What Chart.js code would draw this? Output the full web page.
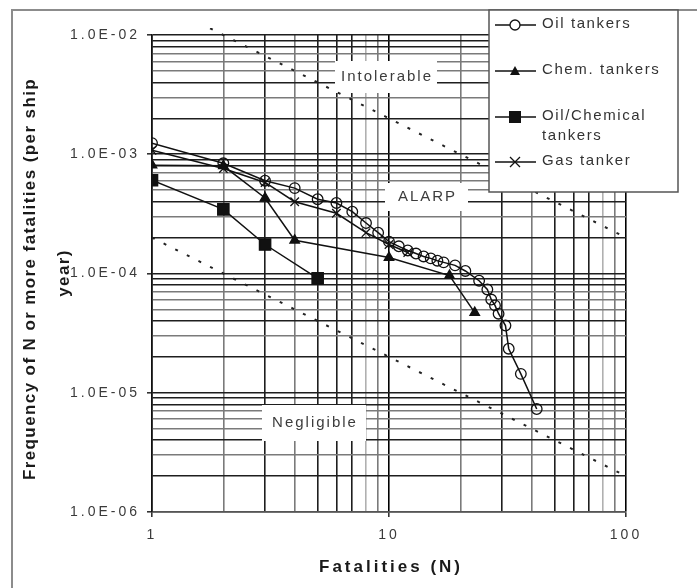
<!DOCTYPE html>
<html>
<head>
<meta charset="utf-8">
<script src="https://cdn.jsdelivr.net/npm/chart.js@4.4.1/dist/chart.umd.min.js"></script>
<style>
  html, body { margin: 0; padding: 0; background: #fff; }
</style>
</head>
<body>
<canvas id="fnChart" width="697" height="588"></canvas>
<script>
// F-N curves: frequency of N or more fatalities per ship year
const oilN = [1, 2, 3, 4, 5, 6, 7, 8, 9, 10, 11, 12, 13, 14, 15, 16, 17, 19, 21, 24, 26, 27, 28, 29, 31, 32, 36, 42];
const oilF = [1.24e-3, 8.4e-4, 6.0e-4, 5.2e-4, 4.2e-4, 3.9e-4, 3.3e-4, 2.65e-4, 2.2e-4, 1.85e-4, 1.69e-4, 1.56e-4,
  1.47e-4, 1.39e-4, 1.34e-4, 1.28e-4, 1.24e-4, 1.17e-4, 1.05e-4, 8.7e-5, 7.35e-5, 6.05e-5, 5.4e-5, 4.6e-5,
  3.66e-5, 2.34e-5, 1.44e-5, 7.3e-6];

const chemN = [1, 2, 3, 4, 10, 18, 23];
const chemF = [8.1e-4, 8.0e-4, 4.3e-4, 1.9e-4, 1.36e-4, 9.6e-5, 4.7e-5];

const oilChemN = [1, 2, 3, 5];
const oilChemF = [6.05e-4, 3.45e-4, 1.75e-4, 9.1e-5];

const gasN = [1, 2, 3, 4, 6, 8, 10, 12];
const gasF = [1.08e-3, 7.6e-4, 5.8e-4, 4.0e-4, 3.2e-4, 2.2e-4, 1.75e-4, 1.5e-4];

// risk criterion lines
const criterionN = [1, 100];
const intolerableF = [2e-2, 2e-4];
const negligibleF = [2e-4, 2e-6];

const xTicks = [1, 2, 3, 4, 5, 6, 7, 8, 9, 10, 20, 30, 40, 50, 60, 70, 80, 90, 100];
const yTicks = [];
for (let e = -6; e <= -3; e++) {
  for (let s = 1; s <= 9; s++) yTicks.push(Number((s * Math.pow(10, e)).toPrecision(3)));
}
yTicks.push(1e-2);

const seriesLabels = ['Oil tankers', 'Chem. tankers', 'Oil/Chemical tankers', 'Gas tanker'];
const zoneLabels = ['Intolerable', 'ALARP', 'Negligible'];

const toPoints = (xs, ys) => xs.map((x, i) => ({x, y: ys[i]}));
const isDecade = v => Math.abs(Math.log10(v) - Math.round(Math.log10(v))) < 1e-9;
const significand = v => Math.round(v / Math.pow(10, Math.floor(Math.log10(v) + 1e-9)));

const DARK = '#1e1e1e', GREY = '#7a7a7a', LIGHT = '#b0b0b0';
const xGridColor = {1: '#000', 2: GREY, 3: DARK, 4: GREY, 5: DARK, 6: DARK, 7: DARK, 8: LIGHT, 9: GREY};
const yGridColor = {1: DARK, 2: DARK, 3: GREY, 4: DARK, 5: GREY, 6: GREY, 7: GREY, 8: DARK, 9: DARK};

const LINE = '#111';
const FONT = '"Liberation Sans", Arial, sans-serif';

const lineSet = (label, xs, ys, style) => Object.assign({
  label,
  data: toPoints(xs, ys),
  borderColor: LINE,
  borderWidth: 1.5,
  pointBorderColor: LINE,
  pointBorderWidth: 1.3,
  pointHoverRadius: 0,
  tension: 0
}, style);

const criterionSet = (label, ys) => ({
  label,
  data: toPoints(criterionN, ys),
  borderColor: '#222',
  borderWidth: 2,
  borderDash: [3, 10],
  pointRadius: 0,
  clip: {left: 0, top: 7, right: 0, bottom: 0}
});

// small marker painter for the legend
function marker(ctx, kind, x, y) {
  ctx.save();
  ctx.strokeStyle = LINE;
  ctx.fillStyle = LINE;
  ctx.lineWidth = 1.3;
  ctx.beginPath();
  if (kind === 'circle') {
    ctx.fillStyle = '#fff';
    ctx.arc(x, y, 5, 0, Math.PI * 2);
    ctx.fill();
    ctx.stroke();
  } else if (kind === 'triangle') {
    ctx.moveTo(x, y - 5);
    ctx.lineTo(x + 5, y + 4);
    ctx.lineTo(x - 5, y + 4);
    ctx.closePath();
    ctx.fill();
  } else if (kind === 'rect') {
    ctx.fillRect(x - 6, y - 6, 12, 12);
  } else {
    ctx.moveTo(x - 5, y - 5); ctx.lineTo(x + 5, y + 5);
    ctx.moveTo(x + 5, y - 5); ctx.lineTo(x - 5, y + 5);
    ctx.stroke();
  }
  ctx.restore();
}

const decorations = {
  id: 'decorations',
  beforeDraw(chart) {
    const ctx = chart.ctx;
    // outer frame
    ctx.save();
    ctx.strokeStyle = '#8c8c8c';
    ctx.lineWidth = 2;
    ctx.strokeRect(12, 10, 720, 620);
    ctx.restore();
    ctx.letterSpacing = '3px';
  },
  beforeDatasetsDraw(chart) {
    const ctx = chart.ctx;
    ctx.letterSpacing = '0px';
    // zone labels sit on white patches over the grid
    const boxes = [
      {text: zoneLabels[0], x: 335, y: 61, w: 102, h: 32},
      {text: zoneLabels[1], x: 385, y: 183, w: 83, h: 28},
      {text: zoneLabels[2], x: 262, y: 405, w: 104, h: 36}
    ];
    ctx.save();
    ctx.font = '15px ' + FONT;
    ctx.letterSpacing = '2px';
    ctx.textAlign = 'center';
    ctx.textBaseline = 'middle';
    boxes.forEach(b => {
      ctx.fillStyle = '#fff';
      ctx.fillRect(b.x, b.y, b.w, b.h);
      ctx.fillStyle = '#3c3c3c';
      ctx.fillText(b.text, b.x + b.w / 2 + 1, b.y + b.h / 2);
    });
    ctx.restore();
  },
  afterDraw(chart) {
    const ctx = chart.ctx;
    ctx.save();

    // axis titles
    ctx.fillStyle = '#1a1a1a';
    ctx.textAlign = 'center';
    ctx.textBaseline = 'middle';
    ctx.font = 'bold 17px ' + FONT;
    ctx.letterSpacing = '3px';
    ctx.fillText('Fatalities (N)', 391, 567);

    ctx.save();
    ctx.translate(30, 279);
    ctx.rotate(-Math.PI / 2);
    ctx.letterSpacing = '1.4px';
    ctx.fillText('Frequency of N or more fatalities (per ship', 0, 0);
    ctx.fillText('year)', 6, 34);
    ctx.restore();

    // legend box
    ctx.letterSpacing = '0px';
    ctx.fillStyle = '#fff';
    ctx.fillRect(489, 10, 189, 182);
    ctx.strokeStyle = '#555';
    ctx.lineWidth = 1.5;
    ctx.strokeRect(489, 10, 189, 182);

    const rows = [
      {kind: 'circle', y: 25, lines: [seriesLabels[0]]},
      {kind: 'triangle', y: 71, lines: [seriesLabels[1]]},
      {kind: 'rect', y: 117, lines: ['Oil/Chemical', 'tankers']},
      {kind: 'crossRot', y: 162, lines: [seriesLabels[3]]}
    ];
    ctx.font = '15px ' + FONT;
    ctx.letterSpacing = '1.6px';
    ctx.textAlign = 'left';
    rows.forEach(r => {
      ctx.strokeStyle = LINE;
      ctx.lineWidth = 1.4;
      ctx.beginPath();
      ctx.moveTo(495, r.y);
      ctx.lineTo(536, r.y);
      ctx.stroke();
      marker(ctx, r.kind, 515, r.y);
      ctx.fillStyle = '#333';
      r.lines.forEach((t, i) => ctx.fillText(t, 542, r.y - 1 + i * 20));
    });
    ctx.restore();
  }
};

const sciLabel = v => '1.0E-' + String(-Math.round(Math.log10(v))).padStart(2, '0');

new Chart(document.getElementById('fnChart'), {
  type: 'line',
  data: {
    datasets: [
      criterionSet('Intolerable', intolerableF),
      criterionSet('Negligible', negligibleF),
      lineSet(seriesLabels[2], oilChemN, oilChemF, {pointStyle: 'rect', pointRadius: 8, pointBackgroundColor: LINE}),
      lineSet(seriesLabels[1], chemN, chemF, {pointStyle: 'triangle', pointRadius: 5.5, pointBackgroundColor: LINE}),
      lineSet(seriesLabels[3], gasN, gasF, {pointStyle: 'crossRot', pointRadius: 6}),
      lineSet(seriesLabels[0], oilN, oilF, {pointStyle: 'circle', pointRadius: 5.3, pointBackgroundColor: 'rgba(255,255,255,0)'})
    ]
  },
  options: {
    responsive: false,
    animation: false,
    events: [],
    layout: {padding: {left: 0, top: 35, right: 71, bottom: 0}},
    plugins: {legend: {display: false}, tooltip: {enabled: false}},
    scales: {
      x: {
        type: 'logarithmic',
        min: 1,
        max: 100,
        afterBuildTicks: s => { s.ticks = xTicks.map(value => ({value})); },
        afterFit: s => { s.height = 76; },
        border: {color: '#555', width: 1.5},
        grid: {
          color: c => xGridColor[significand(c.tick.value)],
          lineWidth: 1.6,
          tickLength: 5,
          tickColor: c => isDecade(c.tick.value) ? '#333' : 'rgba(0,0,0,0)'
        },
        ticks: {
          autoSkip: false,
          maxRotation: 0,
          padding: 10,
          color: '#3a3a3a',
          font: {family: FONT, size: 14},
          callback: v => isDecade(v) ? String(Math.round(v)) : ''
        }
      },
      y: {
        type: 'logarithmic',
        min: 1e-6,
        max: 1e-2,
        afterBuildTicks: s => { s.ticks = yTicks.map(value => ({value})); },
        afterFit: s => { s.width = 152; },
        border: {color: '#111', width: 1.5},
        grid: {
          color: c => yGridColor[significand(c.tick.value)],
          lineWidth: 1.6,
          tickLength: 5,
          tickColor: c => isDecade(c.tick.value) ? '#333' : 'rgba(0,0,0,0)'
        },
        ticks: {
          autoSkip: false,
          padding: 7,
          color: '#3a3a3a',
          font: {family: FONT, size: 14},
          callback: v => isDecade(v) ? sciLabel(v) : ''
        }
      }
    }
  },
  plugins: [decorations]
});
</script>
</body>
</html>
